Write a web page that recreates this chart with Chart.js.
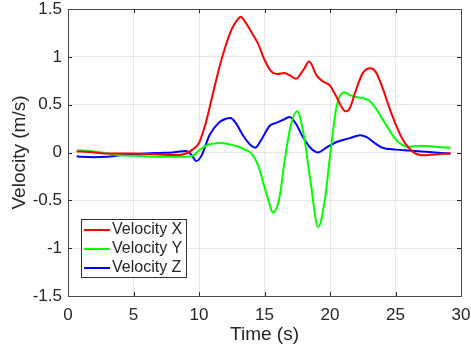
<!DOCTYPE html>
<html>
<head>
<meta charset="utf-8">
<script src="https://cdn.jsdelivr.net/npm/chart.js@4/dist/chart.umd.min.js"></script>
<style>
html,body{margin:0;padding:0;background:#fff;}
#wrap{width:471px;height:351px;}
</style>
</head>
<body>
<div id="wrap"><canvas id="c" width="471" height="351"></canvas></div>
<script>
// ---- data ----
const seriesLabels = ["Velocity X", "Velocity Y", "Velocity Z"];
const xTicks = [0, 5, 10, 15, 20, 25, 30];
const yTicks = [-1.5, -1, -0.5, 0, 0.5, 1, 1.5];

const timeX = [0.66,1,2,3,4,5,6,7,8,8.5,9,9.5,10,10.5,11,11.5,12,12.5,13,13.2,13.5,14,14.5,15,15.5,16,16.5,17,17.4,18,18.4,19,19.5,20,20.5,21,21.2,21.5,22,22.5,23.1,23.5,24,24.5,25,25.5,26,26.5,27.1,28,29.2];
const velX  = [0.01,0.01,0,-0.01,-0.01,-0.01,-0.015,-0.02,-0.027,-0.025,-0.01,0.03,0.1,0.3,0.58,0.86,1.1,1.29,1.40,1.42,1.37,1.26,1.14,0.97,0.85,0.82,0.83,0.80,0.77,0.87,0.95,0.80,0.74,0.70,0.58,0.45,0.43,0.46,0.66,0.83,0.88,0.84,0.68,0.48,0.30,0.15,0.05,-0.01,-0.03,-0.02,-0.01];

const timeY = [0.66,1,2,3,4,5,6,7,8,9,9.5,10,10.5,11,11.6,12,12.5,13,13.5,14,14.5,15,15.3,15.65,16,16.2,16.5,17,17.5,18,18.5,19.1,19.6,20,20.5,21.1,21.5,22,22.5,23,23.5,24,24.5,25,25.5,26,27,28,29.2];
const velY  = [0.02,0.02,0.01,-0.01,-0.03,-0.035,-0.04,-0.045,-0.045,-0.045,-0.035,0.02,0.07,0.09,0.1,0.095,0.08,0.06,0.03,-0.01,-0.13,-0.36,-0.5,-0.63,-0.55,-0.43,-0.12,0.28,0.43,0.18,-0.29,-0.78,-0.5,-0.04,0.48,0.63,0.6,0.58,0.57,0.54,0.46,0.35,0.24,0.14,0.08,0.06,0.07,0.06,0.05];

const timeZ = [0.66,1,2,3,4,5,6,7,8,8.5,9,9.4,9.8,10.2,10.8,11.5,12,12.4,12.8,13.4,14,14.3,14.7,15.4,15.9,16.4,16.9,17.4,17.9,18.5,19.1,19.6,20.5,21.5,22.3,22.8,23.5,24,25,26,27,28,29.2];
const velZ  = [-0.04,-0.045,-0.05,-0.045,-0.03,-0.02,-0.01,-0.005,0,0.01,0.015,-0.02,-0.09,-0.03,0.18,0.31,0.35,0.36,0.31,0.17,0.07,0.05,0.12,0.28,0.31,0.34,0.37,0.3,0.17,0.05,0,0.04,0.11,0.15,0.18,0.16,0.09,0.05,0.03,0.02,0.01,0,-0.01];

const colors = ["#ff0000", "#00ff00", "#0000ff"];
// ---------------------------------------

function pts(t, v){ return t.map((x,i)=>({x:x, y:v[i]})); }

const FONT = "'Liberation Sans', Arial, Helvetica, sans-serif";
const TXT = "#262626";
const AXC = "#262626";

const framePlugin = {
  id: 'frame',
  afterDraw(chart){
    const ctx = chart.ctx, a = chart.chartArea;
    const xs = chart.scales.x, ys = chart.scales.y;
    ctx.save();
    ctx.strokeStyle = AXC; ctx.lineWidth = 1;
    ctx.beginPath();
    const tl = 4;
    xTicks.forEach(v=>{
      const p = Math.round(xs.getPixelForValue(v)) + 0.5;
      ctx.moveTo(p, a.bottom); ctx.lineTo(p, a.bottom - tl);
      ctx.moveTo(p, a.top); ctx.lineTo(p, a.top + tl);
    });
    yTicks.forEach(v=>{
      const p = Math.round(ys.getPixelForValue(v)) + 0.5;
      ctx.moveTo(a.left, p); ctx.lineTo(a.left + tl, p);
      ctx.moveTo(a.right, p); ctx.lineTo(a.right - tl, p);
    });
    ctx.stroke();
    ctx.strokeStyle = '#4a4a4a';
    ctx.strokeRect(Math.round(a.left)+0.5, Math.round(a.top)+0.5, Math.round(a.right-a.left), Math.round(a.bottom-a.top));
    // legend
    const lx = 81.5, ly = 219.5, lw = 105, lh = 58;
    ctx.fillStyle = '#fff';
    ctx.fillRect(lx, ly, lw, lh);
    ctx.strokeStyle = '#333';
    ctx.strokeRect(lx, ly, lw, lh);
    ctx.font = "16px " + FONT;
    ctx.textBaseline = 'middle';
    ctx.textAlign = 'left';
    chart.data.datasets.forEach((ds, i)=>{
      const y = 230 + i*19;
      ctx.strokeStyle = ds.borderColor; ctx.lineWidth = 2;
      ctx.beginPath(); ctx.moveTo(84, y); ctx.lineTo(110, y); ctx.stroke();
      ctx.fillStyle = TXT;
      ctx.fillText(ds.label, 112, y);
    });
    ctx.restore();
  }
};

new Chart(document.getElementById('c'), {
  type: 'line',
  data: {
    datasets: [
      {label: seriesLabels[0], data: pts(timeX, velX), borderColor: colors[0]},
      {label: seriesLabels[1], data: pts(timeY, velY), borderColor: colors[1]},
      {label: seriesLabels[2], data: pts(timeZ, velZ), borderColor: colors[2]}
    ].map(d=>Object.assign(d, {borderWidth: 2, pointRadius: 0, fill: false, cubicInterpolationMode: 'monotone'}))
  },
  options: {
    responsive: false,
    animation: false,
    layout: {padding: {left: 0, right: 10, top: 9, bottom: 0}},
    plugins: {legend: {display: false}, tooltip: {enabled: false}},
    scales: {
      x: {
        type: 'linear', min: 0, max: 30,
        afterBuildTicks: s => { s.ticks = xTicks.map(v=>({value:v})); },
        afterFit: s => { s.height = 55; s.paddingLeft = 0; s.paddingRight = 0; },
        grid: {color: '#e6e6e6', drawTicks: false},
        border: {display: false},
        ticks: {padding: 9, color: TXT, font: {family: FONT, size: 17}, maxRotation: 0, callback: v => String(v)},
        title: {display: true, text: 'Time (s)', color: TXT, font: {family: FONT, size: 19}, padding: {top: 0, bottom: 5}}
      },
      y: {
        min: -1.5, max: 1.5,
        afterBuildTicks: s => { s.ticks = yTicks.map(v=>({value:v})); },
        afterFit: s => { s.width = 68; s.paddingTop = 0; s.paddingBottom = 0; },
        grid: {color: '#e6e6e6', drawTicks: false},
        border: {display: false},
        ticks: {padding: 6, color: TXT, font: {family: FONT, size: 17}, callback: v => String(v)},
        title: {display: true, text: 'Velocity (m/s)', color: TXT, font: {family: FONT, size: 19}, padding: {top: 8, bottom: 0}}
      }
    }
  },
  plugins: [framePlugin]
});
</script>
</body>
</html>
